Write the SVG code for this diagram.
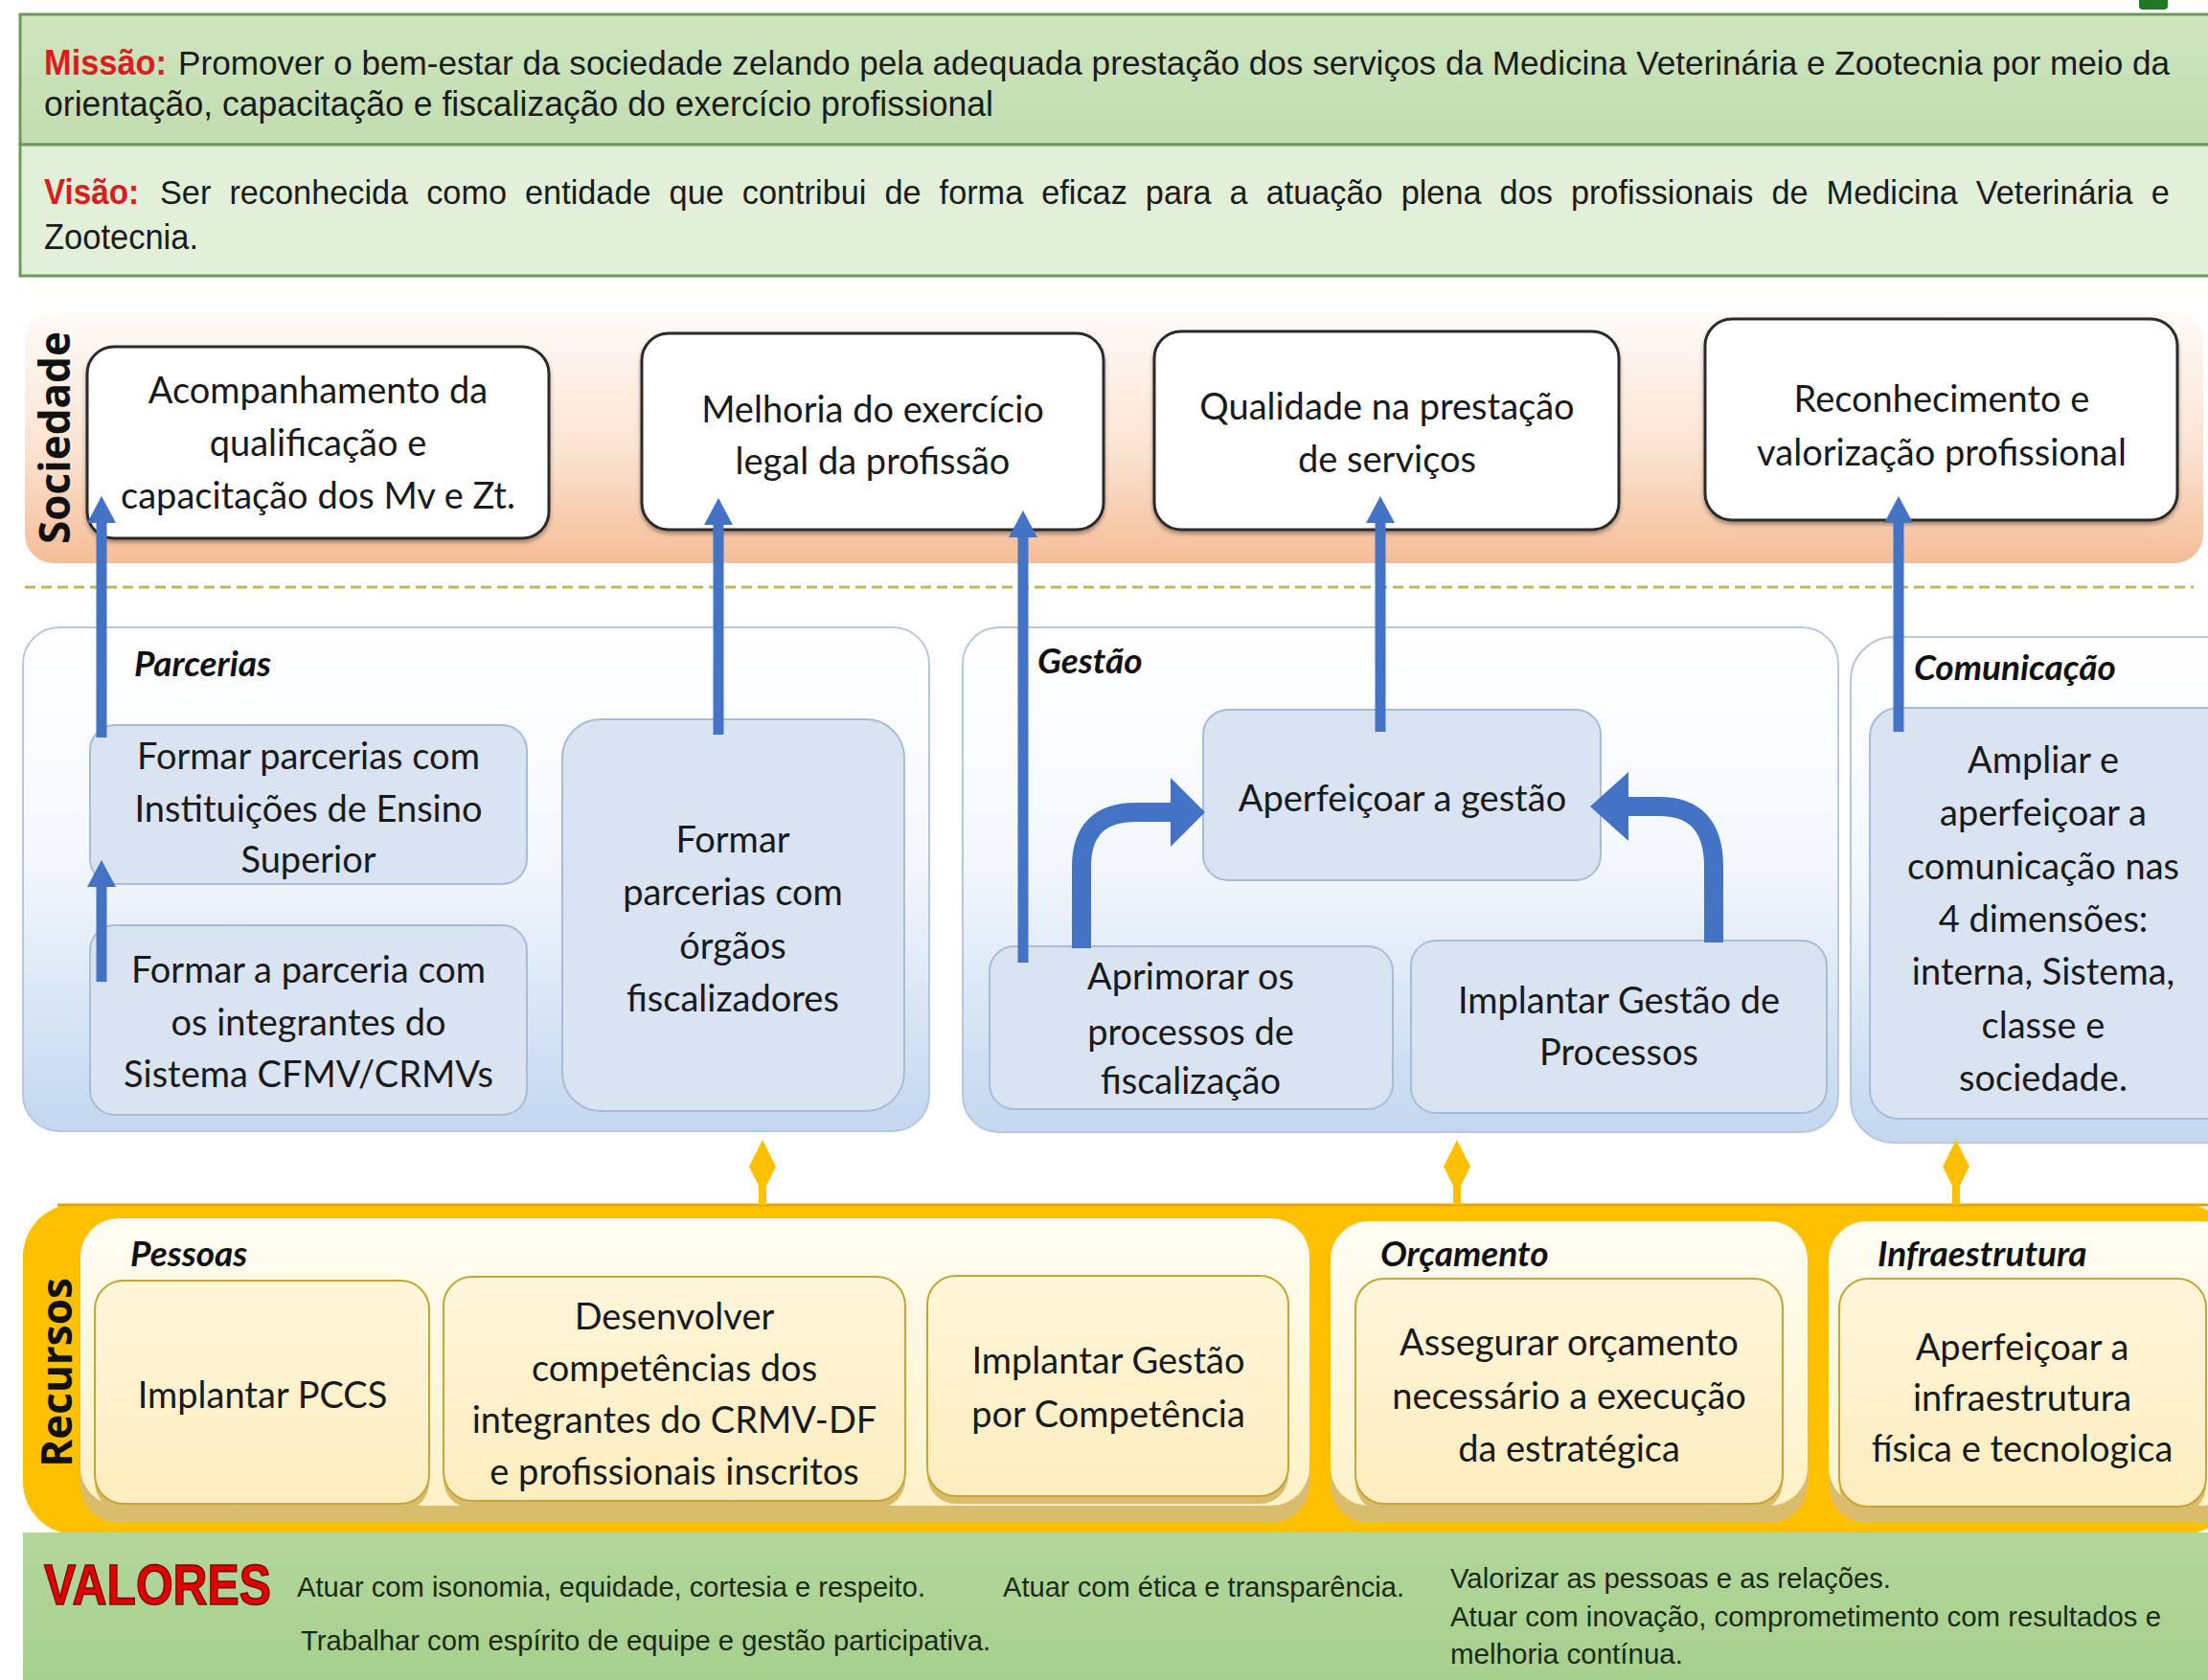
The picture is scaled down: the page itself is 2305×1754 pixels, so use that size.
<svg xmlns="http://www.w3.org/2000/svg" width="2305" height="1754" viewBox="0 0 2305 1754">
<style>
.narrow{font-family:"Liberation Sans",Arial,sans-serif;fill:#1b1b1b}
.red{fill:#d81e1e;font-weight:bold}
.bt{font-family:Lato,"Open Sans",sans-serif;font-size:38px;fill:#1a1a1a;text-anchor:middle}
.ttl{font-family:Lato,"Open Sans",sans-serif;font-size:37px;font-weight:bold;font-style:italic;fill:#111}
.vlab{font-family:"Open Sans","DejaVu Sans",sans-serif;font-size:44px;font-weight:bold;fill:#111;text-anchor:middle}
.sbox{fill:#fff;stroke:#2a2a2a;stroke-width:3}
.pcont{fill:url(#gProc);stroke:#b8c8dc;stroke-width:2}
.pbox{fill:#d9e3f2;stroke:#a8bcd7;stroke-width:2}
.rcont{fill:url(#gRc)}
.rshadow{fill:#d9bd6c}
.rbox{fill:url(#gRbox);stroke:#c5a536;stroke-width:2}
.blue{stroke:#4472c4;stroke-width:11;fill:none}
.curve{stroke:#4472c4;stroke-width:20;fill:none}
.head{fill:#4472c4}
.gold{fill:#ffc000}
.vt{font-family:"Liberation Sans",Arial,sans-serif;font-size:30px;fill:#1b2a14}
</style>
<defs>
<linearGradient id="gSoc" x1="0" y1="0" x2="0" y2="1">
<stop offset="0" stop-color="#fefbf8"/><stop offset="0.55" stop-color="#fbe3d2"/><stop offset="1" stop-color="#f5bd97"/>
</linearGradient>
<linearGradient id="gProc" x1="0" y1="0" x2="0" y2="1">
<stop offset="0" stop-color="#ffffff"/><stop offset="0.45" stop-color="#f4f8fd"/><stop offset="1" stop-color="#c3d7ef"/>
</linearGradient>
<linearGradient id="gRc" x1="0" y1="0" x2="0" y2="1">
<stop offset="0" stop-color="#fffdf4"/><stop offset="1" stop-color="#fff2c8"/>
</linearGradient>
<linearGradient id="gRbox" x1="0" y1="0" x2="0" y2="1">
<stop offset="0" stop-color="#fff6da"/><stop offset="1" stop-color="#fdedbf"/>
</linearGradient>
<linearGradient id="gVal" x1="0" y1="0" x2="0" y2="1">
<stop offset="0" stop-color="#b3d69c"/><stop offset="1" stop-color="#a6cf8c"/>
</linearGradient>
<linearGradient id="gMis" x1="0" y1="0" x2="0" y2="1">
<stop offset="0" stop-color="#cfe5bf"/><stop offset="1" stop-color="#c2ddb0"/>
</linearGradient>
<filter id="sh" x="-5%" y="-5%" width="110%" height="115%">
<feDropShadow dx="0" dy="3" stdDeviation="2" flood-color="#000" flood-opacity="0.35"/>
</filter>
<marker id="ah" viewBox="0 0 28 30" refX="8" refY="15" markerWidth="28" markerHeight="30" markerUnits="userSpaceOnUse" orient="auto">
<path d="M28 15 L0 0 L0 30 Z" fill="#4472c4"/>
</marker>
</defs>

<!-- Mission / Vision -->
<g id="missao">
<rect x="21" y="15" width="2310" height="136" fill="url(#gMis)" stroke="#6e9a5b" stroke-width="3"/>
<text class="narrow red" x="46" y="78" font-size="36" textLength="128" lengthAdjust="spacingAndGlyphs">Missão:</text>
<text class="narrow" transform="translate(186,78) scale(0.85,1)" x="0" y="0" font-size="36" textLength="2446" lengthAdjust="spacingAndGlyphs">Promover o bem-estar da sociedade zelando pela adequada prestação dos serviços da Medicina Veterinária e Zootecnia por meio da</text>
<text class="narrow" x="46" y="121" font-size="36" textLength="991" lengthAdjust="spacingAndGlyphs">orientação,  capacitação e fiscalização do exercício profissional</text>
</g>
<g id="visao">
<rect x="21" y="151" width="2310" height="137" fill="#e2efd9" stroke="#6e9a5b" stroke-width="3"/>
<text class="narrow red" x="46" y="213" font-size="36" textLength="99" lengthAdjust="spacingAndGlyphs">Visão:</text>
<text class="narrow" transform="translate(167,213) scale(0.85,1)" x="0" y="0" font-size="36" textLength="2468" lengthAdjust="spacingAndGlyphs" word-spacing="10">Ser reconhecida como entidade que contribui de forma eficaz para a atuação plena dos profissionais de Medicina Veterinária e</text>
<text class="narrow" x="46" y="260" font-size="36" textLength="161" lengthAdjust="spacingAndGlyphs">Zootecnia.</text>
</g>
<rect x="2233" y="-10" width="30" height="20" rx="4" fill="#1d7a24"/>

<!-- Sociedade band -->
<g id="sociedade">
<rect x="26" y="326" width="2274" height="262" rx="30" fill="url(#gSoc)"/>
<text class="vlab" transform="translate(73,457) rotate(-90)">Sociedade</text>
</g>
<g id="s1"><rect class="sbox" filter="url(#sh)" x="91" y="362" width="482" height="200" rx="28"/>
<text class="bt" x="332" y="421">Acompanhamento da</text><text class="bt" x="332" y="476">qualificação e</text><text class="bt" x="332" y="531">capacitação dos Mv e Zt.</text></g>
<g id="s2"><rect class="sbox" filter="url(#sh)" x="670" y="348" width="482" height="205" rx="28"/>
<text class="bt" x="911" y="441">Melhoria do exercício</text><text class="bt" x="911" y="495">legal da profissão</text></g>
<g id="s3"><rect class="sbox" filter="url(#sh)" x="1205" y="346" width="485" height="207" rx="28"/>
<text class="bt" x="1448" y="438">Qualidade na prestação</text><text class="bt" x="1448" y="493">de serviços</text></g>
<g id="s4"><rect class="sbox" filter="url(#sh)" x="1780" y="333" width="493" height="210" rx="28"/>
<text class="bt" x="2027" y="430">Reconhecimento e</text><text class="bt" x="2027" y="486">valorização profissional</text></g>

<line x1="26" y1="613" x2="2290" y2="613" stroke="#c7b55a" stroke-width="3" stroke-dasharray="11 6"/>

<!-- Processos -->
<g id="processos">
<text class="vlab" transform="translate(73,889) rotate(-90)">Processos</text>
</g>
<g id="parcerias">
<rect class="pcont" x="24" y="655" width="946" height="526" rx="38"/>
<text class="ttl" x="140" y="706">Parcerias</text>
</g>
<g id="p1"><rect class="pbox" x="94" y="757" width="456" height="166" rx="26"/>
<text class="bt" x="322" y="803">Formar parcerias com</text><text class="bt" x="322" y="858">Instituições de Ensino</text><text class="bt" x="322" y="911">Superior</text></g>
<g id="p2"><rect class="pbox" x="94" y="966" width="456" height="198" rx="26"/>
<text class="bt" x="322" y="1026">Formar a parceria com</text><text class="bt" x="322" y="1081">os integrantes do</text><text class="bt" x="322" y="1135">Sistema CFMV/CRMVs</text></g>
<g id="p3"><rect class="pbox" x="587" y="751" width="357" height="409" rx="40"/>
<text class="bt" x="765" y="890">Formar</text><text class="bt" x="765" y="945">parcerias com</text><text class="bt" x="765" y="1001">órgãos</text><text class="bt" x="765" y="1056">fiscalizadores</text></g>

<g id="gestao">
<rect class="pcont" x="1005" y="655" width="914" height="527" rx="38"/>
<text class="ttl" x="1083" y="703">Gestão</text>
</g>
<g id="g1"><rect class="pbox" x="1256" y="741" width="415" height="178" rx="26"/>
<text class="bt" x="1464" y="847">Aperfeiçoar a gestão</text></g>
<g id="g2"><rect class="pbox" x="1033" y="988" width="421" height="170" rx="26"/>
<text class="bt" x="1243" y="1033">Aprimorar os</text><text class="bt" x="1243" y="1091">processos de</text><text class="bt" x="1243" y="1142">fiscalização</text></g>
<g id="g3"><rect class="pbox" x="1473" y="982" width="434" height="180" rx="26"/>
<text class="bt" x="1690" y="1058">Implantar Gestão de</text><text class="bt" x="1690" y="1112">Processos</text></g>

<g id="comunicacao">
<rect class="pcont" x="1932" y="665" width="420" height="528" rx="45"/>
<text class="ttl" x="1998" y="710">Comunicação</text>
</g>
<g id="c1"><rect class="pbox" x="1952" y="739" width="400" height="429" rx="30"/>
<text class="bt" x="2133" y="807">Ampliar  e</text><text class="bt" x="2133" y="862">aperfeiçoar a</text><text class="bt" x="2133" y="918">comunicação nas</text><text class="bt" x="2133" y="973">4 dimensões:</text><text class="bt" x="2133" y="1028">interna, Sistema,</text><text class="bt" x="2133" y="1084">classe e</text><text class="bt" x="2133" y="1139">sociedade.</text></g>

<!-- Recursos -->
<g id="recursos">
<rect class="gold" x="24" y="1257" width="2310" height="345" rx="55"/>
<line x1="60" y1="1258" x2="2305" y2="1258" stroke="#e0a800" stroke-width="3"/>
<text class="vlab" transform="translate(75,1433) rotate(-90)">Recursos</text>
</g>
<g id="pessoas">
<rect class="rshadow" x="84" y="1272" width="1283" height="318" rx="40"/>
<rect class="rcont" x="84" y="1272" width="1283" height="300" rx="40"/>
<text class="ttl" x="136" y="1322">Pessoas</text>
</g>
<g id="r1"><rect class="rshadow" x="99" y="1345" width="349" height="233" rx="30"/><rect class="rbox" x="99" y="1337" width="349" height="233" rx="30"/>
<text class="bt" x="274" y="1470">Implantar PCCS</text></g>
<g id="r2"><rect class="rshadow" x="463" y="1341" width="482" height="234" rx="30"/><rect class="rbox" x="463" y="1333" width="482" height="234" rx="30"/>
<text class="bt" x="704" y="1388">Desenvolver</text><text class="bt" x="704" y="1442">competências dos</text><text class="bt" x="704" y="1496">integrantes do CRMV-DF</text><text class="bt" x="704" y="1550">e profissionais inscritos</text></g>
<g id="r3"><rect class="rshadow" x="968" y="1340" width="377" height="230" rx="30"/><rect class="rbox" x="968" y="1332" width="377" height="230" rx="30"/>
<text class="bt" x="1157" y="1434">Implantar Gestão</text><text class="bt" x="1157" y="1490">por Competência</text></g>
<g id="orcamento">
<rect class="rshadow" x="1389" y="1275" width="498" height="315" rx="40"/>
<rect class="rcont" x="1389" y="1275" width="498" height="297" rx="40"/>
<text class="ttl" x="1441" y="1322">Orçamento</text>
</g>
<g id="r4"><rect class="rshadow" x="1415" y="1343" width="446" height="235" rx="30"/><rect class="rbox" x="1415" y="1335" width="446" height="235" rx="30"/>
<text class="bt" x="1638" y="1415">Assegurar orçamento</text><text class="bt" x="1638" y="1471">necessário a execução</text><text class="bt" x="1638" y="1526">da estratégica</text></g>
<g id="infraestrutura">
<rect class="rshadow" x="1909" y="1275" width="430" height="315" rx="40"/>
<rect class="rcont" x="1909" y="1275" width="430" height="297" rx="40"/>
<text class="ttl" x="1960" y="1322">Infraestrutura</text>
</g>
<g id="r5"><rect class="rshadow" x="1920" y="1343" width="383" height="238" rx="30"/><rect class="rbox" x="1920" y="1335" width="383" height="238" rx="30"/>
<text class="bt" x="2111" y="1420">Aperfeiçoar a</text><text class="bt" x="2111" y="1473">infraestrutura</text><text class="bt" x="2111" y="1526">física e tecnologica</text></g>

<!-- Valores -->
<g id="valores">
<rect x="24" y="1600" width="2310" height="170" fill="url(#gVal)"/>
<text x="46" y="1675" font-family="'Liberation Sans',Arial,sans-serif" font-size="60" font-weight="bold" fill="#e00000" stroke="#7a0000" stroke-width="1.5" textLength="237" lengthAdjust="spacingAndGlyphs">VALORES</text>
<text class="vt" x="310" y="1667" textLength="656" lengthAdjust="spacingAndGlyphs">Atuar com isonomia, equidade, cortesia e respeito.</text>
<text class="vt" x="314" y="1723" textLength="720" lengthAdjust="spacingAndGlyphs">Trabalhar com espírito de equipe e gestão participativa.</text>
<text class="vt" x="1047" y="1667" textLength="419" lengthAdjust="spacingAndGlyphs">Atuar com ética e transparência.</text>
<text class="vt" x="1514" y="1658" textLength="460" lengthAdjust="spacingAndGlyphs">Valorizar as pessoas e as relações.</text>
<text class="vt" x="1514" y="1698" textLength="742" lengthAdjust="spacingAndGlyphs">Atuar com inovação, comprometimento com resultados e</text>
<text class="vt" x="1514" y="1737" textLength="243" lengthAdjust="spacingAndGlyphs">melhoria contínua.</text>
</g>

<!-- Connectors -->
<g id="connectors">
<line class="blue" x1="106" y1="770" x2="106" y2="538" marker-end="url(#ah)"/>
<line class="blue" x1="106" y1="1025" x2="106" y2="918" marker-end="url(#ah)"/>
<line class="blue" x1="750" y1="767" x2="750" y2="540" marker-end="url(#ah)"/>
<line class="blue" x1="1068" y1="1005" x2="1068" y2="553" marker-end="url(#ah)"/>
<line class="blue" x1="1441" y1="764" x2="1441" y2="538" marker-end="url(#ah)"/>
<line class="blue" x1="1982" y1="764" x2="1982" y2="538" marker-end="url(#ah)"/>
<path class="curve" d="M1129 990 L1129 905 Q1129 848 1186 848 L1226 848"/>
<polygon class="head" points="1222,812 1258,848 1222,884"/>
<path class="curve" d="M1789 984 L1789 905 Q1789 842 1732 842 L1696 842"/>
<polygon class="head" points="1700,806 1660,842 1700,878"/>
<polygon class="gold" points="796,1190 810,1218 800,1238 800,1258 792,1258 792,1238 782,1218"/>
<polygon class="gold" points="1521,1190 1535,1218 1525,1238 1525,1258 1517,1258 1517,1238 1507,1218"/>
<polygon class="gold" points="2042,1190 2056,1218 2046,1238 2046,1258 2038,1258 2038,1238 2028,1218"/>
</g>
</svg>
